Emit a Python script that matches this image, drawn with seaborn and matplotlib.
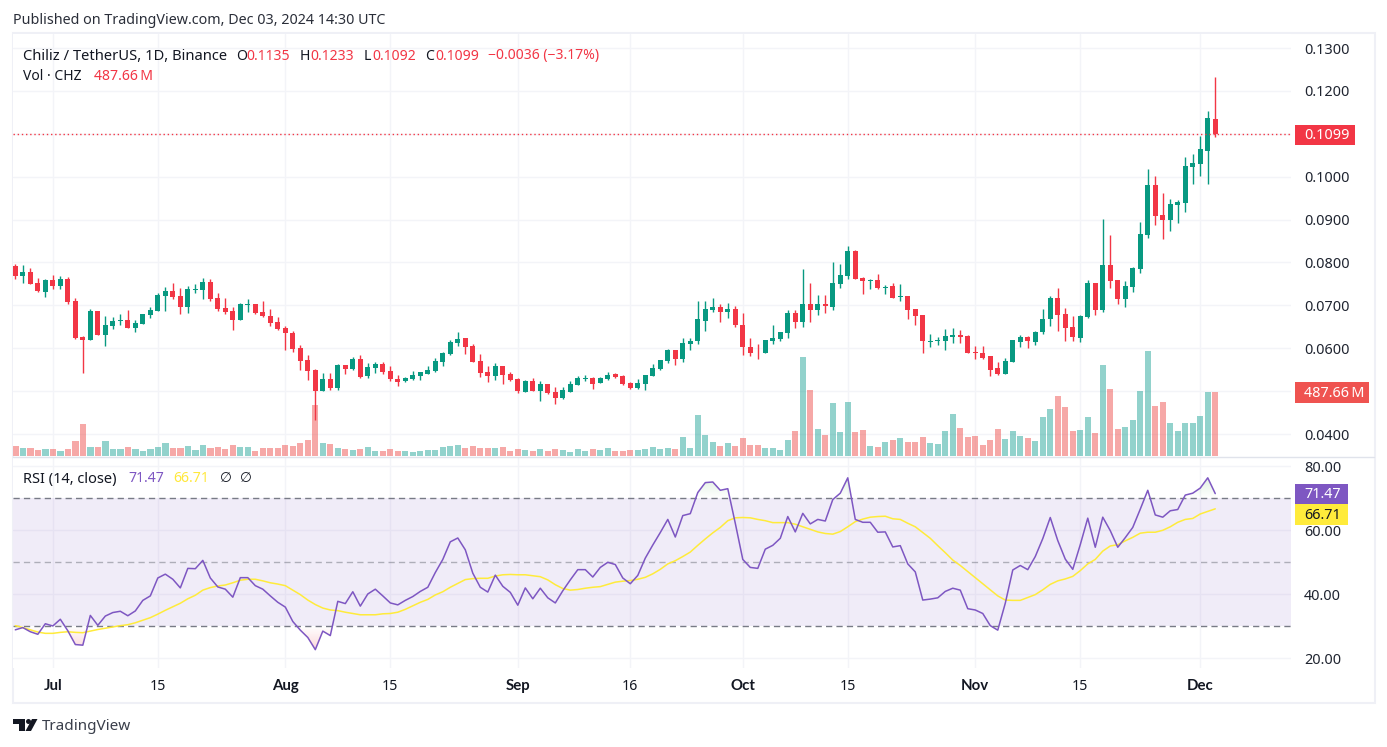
import numpy as np
import pandas as pd
import matplotlib
matplotlib.use("Agg")
import matplotlib.pyplot as plt
from matplotlib.patches import Rectangle, Polygon
from matplotlib.path import Path
import seaborn as sns

opens = [
 .0792,.0768,.0778,.0752,.0731,.0759,.0745,.0761,.0710,.0626,
 .0619,.0687,.0631,.0652,.0664,.0666,.0647,.0657,.0678,.0687,
 .0722,.0733,.0722,.0696,.0736,.0736,.0754,.0717,.0694,.0687,
 .0666,.0701,.0703,.0685,.0675,.0661,.0647,.0636,.0601,.0573,
 .0550,.0501,.0529,.0508,.0561,.0552,.0575,.0536,.0554,.0564,
 .0547,.0529,.0524,.0529,.0536,.0540,.0547,.0568,.0587,.0612,
 .0624,.0605,.0571,.0545,.0536,.0559,.0540,.0529,.0499,.0524,
 .0501,.0517,.0498,.0484,.0498,.0515,.0529,.0531,.0519,.0529,
 .0540,.0536,.0519,.0508,.0517,.0536,.0552,.0571,.0597,.0574,
 .0611,.0616,.0664,.0690,.0697,.0685,.0692,.0655,.0604,.0590,
 .0588,.0618,.0622,.0636,.0683,.0660,.0704,.0688,.0702,.0697,
 .0750,.0769,.0827,.0764,.0757,.0760,.0741,.0746,.0720,.0722,
 .0691,.0678,.0615,.0617,.0617,.0626,.0631,.0629,.0591,.0589,
 .0582,.0554,.0540,.0568,.0615,.0626,.0615,.0638,.0668,.0717,
 .0680,.0650,.0624,.0673,.0752,.0689,.0794,.0759,.0715,.0743,
 .0785,.0864,.0980,.0910,.0898,.0933,.0938,.1022,.1029,.1061,
 .1135]
highs = [
 .0796,.0794,.0787,.0764,.0761,.0771,.0768,.0766,.0717,.0629,
 .0691,.0687,.0675,.0673,.0680,.0689,.0666,.0680,.0696,.0729,
 .0743,.0752,.0740,.0745,.0750,.0764,.0761,.0729,.0717,.0696,
 .0705,.0715,.0703,.0710,.0691,.0673,.0652,.0640,.0608,.0584,
 .0552,.0543,.0543,.0564,.0561,.0580,.0584,.0566,.0568,.0568,
 .0559,.0538,.0533,.0547,.0545,.0559,.0578,.0591,.0619,.0638,
 .0624,.0610,.0587,.0559,.0566,.0559,.0545,.0531,.0526,.0531,
 .0524,.0517,.0510,.0510,.0524,.0536,.0538,.0533,.0533,.0545,
 .0543,.0538,.0522,.0529,.0538,.0564,.0573,.0598,.0597,.0625,
 .0625,.0709,.0709,.0718,.0704,.0706,.0699,.0681,.0625,.0609,
 .0620,.0653,.0639,.0688,.0690,.0785,.0753,.0725,.0725,.0802,
 .0797,.0839,.0829,.0767,.0762,.0774,.0748,.0753,.0750,.0722,
 .0692,.0678,.0633,.0626,.0645,.0647,.0643,.0631,.0605,.0605,
 .0582,.0568,.0578,.0619,.0631,.0629,.0640,.0691,.0722,.0740,
 .0694,.0675,.0678,.0759,.0752,.0901,.0864,.0759,.0757,.0789,
 .0894,.1017,.1001,.0961,.0947,.0945,.1045,.1054,.1094,.1152,
 .1233]
lows = [
 .0761,.0752,.0750,.0731,.0719,.0738,.0738,.0703,.0622,.0543,
 .0619,.0631,.0605,.0645,.0654,.0647,.0638,.0657,.0671,.0687,
 .0687,.0715,.0680,.0682,.0729,.0715,.0710,.0687,.0680,.0643,
 .0666,.0685,.0680,.0673,.0652,.0643,.0596,.0591,.0550,.0526,
 .0432,.0501,.0503,.0503,.0540,.0550,.0531,.0531,.0543,.0540,
 .0524,.0512,.0522,.0526,.0526,.0540,.0545,.0559,.0585,.0605,
 .0587,.0568,.0533,.0522,.0526,.0517,.0524,.0496,.0499,.0501,
 .0478,.0494,.0471,.0482,.0498,.0515,.0524,.0505,.0519,.0526,
 .0531,.0515,.0505,.0505,.0503,.0536,.0550,.0566,.0562,.0567,
 .0595,.0609,.0641,.0685,.0660,.0671,.0650,.0585,.0581,.0574,
 .0588,.0611,.0618,.0625,.0648,.0650,.0662,.0678,.0681,.0690,
 .0741,.0762,.0762,.0727,.0739,.0739,.0727,.0718,.0709,.0667,
 .0653,.0589,.0603,.0608,.0596,.0612,.0612,.0589,.0575,.0575,
 .0536,.0538,.0540,.0568,.0603,.0601,.0608,.0633,.0652,.0640,
 .0617,.0617,.0615,.0671,.0678,.0684,.0740,.0703,.0696,.0731,
 .0775,.0857,.0887,.0854,.0873,.0891,.0917,.0982,.1001,.0982,
 .1092]
closes = [
 .0768,.0778,.0750,.0733,.0759,.0745,.0761,.0708,.0624,.0619,
 .0687,.0631,.0654,.0664,.0665,.0647,.0659,.0680,.0689,.0724,
 .0733,.0719,.0696,.0738,.0738,.0754,.0715,.0691,.0685,.0666,
 .0703,.0703,.0682,.0675,.0659,.0645,.0636,.0598,.0571,.0547,
 .0501,.0529,.0508,.0561,.0552,.0575,.0533,.0557,.0564,.0545,
 .0529,.0522,.0531,.0538,.0545,.0550,.0571,.0589,.0615,.0622,
 .0603,.0568,.0543,.0536,.0559,.0538,.0526,.0501,.0524,.0501,
 .0517,.0496,.0484,.0503,.0517,.0531,.0531,.0517,.0531,.0538,
 .0533,.0517,.0508,.0519,.0538,.0554,.0573,.0597,.0574,.0613,
 .0618,.0667,.0692,.0697,.0685,.0692,.0655,.0602,.0590,.0588,
 .0620,.0625,.0639,.0683,.0660,.0704,.0688,.0702,.0699,.0753,
 .0771,.0827,.0762,.0757,.0760,.0741,.0743,.0718,.0722,.0690,
 .0676,.0616,.0617,.0619,.0629,.0631,.0626,.0589,.0589,.0578,
 .0550,.0540,.0571,.0619,.0626,.0617,.0638,.0668,.0717,.0678,
 .0647,.0626,.0675,.0752,.0689,.0794,.0757,.0715,.0745,.0787,
 .0866,.0980,.0908,.0898,.0936,.0940,.1024,.1033,.1064,.1136,
 .1099]
volumes_m = [
 76,61,61,46,53,53,38,53,114,244,
 69,69,114,53,53,69,53,38,53,69,
 99,61,61,76,46,84,61,69,53,84,
 69,69,38,61,61,61,84,76,99,122,
 389,99,91,61,53,46,53,69,38,38,
 53,38,38,30,38,46,46,69,76,84,
 61,76,61,61,61,69,38,53,46,38,
 53,38,53,46,30,53,38,53,46,61,
 38,38,46,46,53,69,53,61,53,145,
 61,312,160,107,76,99,76,137,84,84,
 61,61,46,122,190,754,503,206,160,404,
 183,411,183,198,76,69,107,122,137,107,
 107,145,99,91,190,320,213,145,152,84,
 122,206,130,190,152,137,114,297,358,457,
 373,190,198,297,175,693,511,206,221,274,
 495,800,381,411,251,190,251,251,305,488,
 487.66]
rsi_values = [
 28.9,29.6,28.3,27.5,30.8,30.1,32.2,28.6,24.3,24.1,
 33.4,30.3,33.2,34.3,34.7,33.3,34.8,38.1,39.5,45.1,
 46.3,44.7,42.0,48.1,48.0,50.6,45.1,42.3,41.6,39.1,
 45.2,45.2,42.7,41.6,39.5,37.5,36.0,31.5,28.8,26.5,
 22.7,28.5,27.1,37.8,37.1,40.8,36.3,40.1,41.6,39.5,
 37.3,36.7,38.1,39.3,40.9,42.2,46.8,50.9,56.4,57.6,
 53.9,46.6,42.2,40.7,46.0,42.5,40.6,36.6,42.0,38.6,
 41.9,38.9,37.3,41.1,44.5,47.7,47.7,45.4,48.4,50.0,
 49.3,45.1,43.3,45.9,51.3,55.4,59.3,63.4,57.9,64.6,
 65.2,71.8,74.9,75.1,72.5,73.0,62.2,50.9,48.4,48.1,
 54.1,55.3,57.5,64.3,59.5,65.3,62.0,63.4,62.9,69.6,
 71.6,76.4,63.4,62.5,62.5,59.4,59.5,54.8,55.2,49.5,
 47.0,38.2,38.5,38.9,40.9,41.9,41.3,35.5,35.1,34.0,
 30.2,28.8,37.2,47.6,49.0,47.7,51.8,57.4,64.0,56.8,
 51.0,47.8,55.5,63.8,54.7,64.1,59.9,54.7,57.7,60.9,
 66.6,72.5,64.8,64.1,66.1,66.5,71.0,71.6,73.2,76.4,
 71.47]
rsi_ma_values = [
 30.2,29.6,28.9,28.2,27.8,27.8,28.1,28.3,28.1,28.0,
 28.5,29.0,29.4,29.8,30.2,30.5,31.1,31.9,32.7,33.8,
 35.0,36.1,37.2,38.6,39.7,41.3,42.1,42.6,42.9,43.6,
 44.4,44.7,44.7,44.2,43.6,43.2,42.7,41.3,39.9,38.2,
 36.8,35.7,35.1,34.9,34.4,34.0,33.6,33.6,33.6,33.9,
 34.0,34.4,35.3,36.4,37.5,38.4,39.8,40.8,42.2,43.4,
 44.6,44.9,45.0,45.0,45.7,46.1,46.2,46.1,46.1,45.8,
 45.5,44.5,43.0,41.8,41.3,41.5,41.9,42.2,42.4,43.1,
 43.8,44.1,44.3,44.7,45.3,46.4,47.8,49.5,50.5,51.8,
 53.2,55.3,57.3,59.2,60.9,63.0,63.9,64.0,63.9,63.4,
 63.0,62.4,62.4,62.4,61.9,61.1,60.3,59.5,59.0,58.8,
 59.6,61.1,62.7,63.5,64.1,64.3,64.4,63.6,63.4,62.2,
 61.1,59.3,57.5,55.2,53.0,50.7,49.0,47.1,45.2,43.3,
 41.4,39.5,38.2,38.1,38.1,39.0,39.9,41.4,43.1,44.2,
 44.8,45.6,47.4,49.5,50.9,53.5,55.1,55.5,56.7,57.8,
 59.1,59.4,59.4,60.0,61.1,62.5,63.4,63.7,65.1,65.9,
 66.71]
x_tick_days = [5, 19, 36, 50, 67, 82, 97, 111, 128, 142, 158]
x_tick_labels = ["Jul", "15", "Aug", "15", "Sep", "16", "Oct", "15", "Nov", "15", "Dec"]
x_tick_bold = ["Jul", "Aug", "Sep", "Oct", "Nov", "Dec"]
price_grid = [.13, .12, .11, .10, .09, .08, .07, .06, .05, .04]
price_tick_labels = ["0.1300", "0.1200", "", "0.1000", "0.0900", "0.0800", "0.0700", "0.0600", "", "0.0400"]
rsi_grid = [80, 60, 40, 20]
rsi_tick_labels = ["80.00", "60.00", "40.00", "20.00"]

for arr in (opens, highs, lows, closes, volumes_m, rsi_values, rsi_ma_values):
    assert len(arr) == 161

UP, DOWN = "#089981", "#f23645"
GRID = "#f3f4f8"
INK = "#131722"
PURPLE, YELLOW = "#7e57c2", "#ffeb3b"
W, H = 1387, 747

sns.set_theme(style="white")
plt.rcParams["font.family"] = ["Noto Sans", "DejaVu Sans"]

df = pd.DataFrame({"day": np.arange(161), "open": opens, "high": highs, "low": lows,
                   "close": closes, "volume": volumes_m, "rsi": rsi_values, "rsi_ma": rsi_ma_values})
df["dir"] = np.where(df["close"] >= df["open"], "up", "down")

fig = plt.figure(figsize=(W / 100, H / 100), dpi=100, facecolor="white")


def rect(l, t, r, b):
    return [l / W, 1 - b / H, (r - l) / W, (b - t) / H]


XLIM = (-0.31, 170.1)
PL, PR = 13, 1291
main_rect = rect(PL, 34, PR, 456)
rsi_rect = rect(PL, 457, PR, 668)
PRICE_LIM = (0.13 - (456 - 48) / 4289, 0.13 + (48 - 34) / 4289)
RSI_LIM = (70 - (668 - 498.3) / 3.2, 70 + (498.3 - 457) / 3.2)

# base pane: grid and price ticks
ax = fig.add_axes(main_rect, zorder=1)
ax.set_xlim(*XLIM)
ax.set_ylim(*PRICE_LIM)
ax.set_xticks(x_tick_days)
ax.set_xticklabels([])
ax.set_yticks(price_grid)
ax.set_yticklabels(price_tick_labels, fontsize=10.4, color="#1f2430")
ax.yaxis.tick_right()
ax.tick_params(axis="both", length=0)
ax.tick_params(axis="y", pad=9.4)
ax.grid(True, color=GRID, lw=1.0)
ax.set_axisbelow(True)
for s in ax.spines.values():
    s.set_visible(False)

# volume layer
ax_vol = fig.add_axes(main_rect, zorder=2, facecolor="none")
sns.barplot(data=df, x="day", y="volume", hue="dir", hue_order=["up", "down"],
            palette={"up": "#26a69a", "down": "#ef5350"}, native_scale=True, dodge=False,
            width=0.85, saturation=1, alpha=0.5, legend=False, ax=ax_vol, linewidth=0)
ax_vol.set_xlim(*XLIM)
ax_vol.set_ylim(0, 422 / (64 / 487.66))
ax_vol.axis("off")

# candle layer
ax_c = fig.add_axes(main_rect, zorder=3, facecolor="none")
ax_c.set_xlim(*XLIM)
ax_c.set_ylim(*PRICE_LIM)
ax_c.axis("off")
colors = df["dir"].map({"up": UP, "down": DOWN})
ax_c.vlines(df["day"], df["low"], df["high"], colors=colors, lw=1.0)
bottoms = df[["open", "close"]].min(axis=1)
heights = np.maximum((df["close"] - df["open"]).abs(), 0.00012)
ax_c.bar(df["day"], heights, bottom=bottoms, width=0.7, color=colors, linewidth=0)
ax_c.axhline(closes[-1], color=DOWN, lw=1.0, ls=(0, (1, 2)))

# RSI pane
ax_r = fig.add_axes(rsi_rect, zorder=1)
ax_r.set_xlim(*XLIM)
ax_r.set_ylim(*RSI_LIM)
ax_r.set_xticks(x_tick_days)
ax_r.set_xticklabels(x_tick_labels, fontsize=10.2, color=INK)
for lab in ax_r.get_xticklabels():
    if lab.get_text() in x_tick_bold:
        lab.set_fontfamily("Lato")
        lab.set_fontweight("bold")
        lab.set_fontsize(10.8)
ax_r.set_yticks(rsi_grid)
ax_r.set_yticklabels(rsi_tick_labels, fontsize=10.4, color="#1f2430")
ax_r.yaxis.tick_right()
ax_r.tick_params(axis="both", length=0)
ax_r.tick_params(axis="y", pad=9.4)
ax_r.tick_params(axis="x", pad=8)
ax_r.grid(True, color=GRID, lw=1.0)
ax_r.set_axisbelow(True)
for s in ax_r.spines.values():
    s.set_visible(False)
ax_r.axhspan(30, 70, color=PURPLE, alpha=0.11, lw=0, zorder=1)


def gradient_fill(level, far, rgb, where):
    poly = ax_r.fill_between(df["day"], df["rsi"], level, where=where, interpolate=True, color="none", lw=0)
    paths = poly.get_paths()
    if not paths:
        return
    g = np.zeros((64, 2, 4))
    g[..., :3] = rgb
    g[..., 3] = np.linspace(0.22, 0, 64)[:, None]
    lo, hi = (level, far) if far > level else (far, level)
    im = ax_r.imshow(g, extent=(XLIM[0], XLIM[1], lo, hi), aspect="auto", zorder=1.5,
                     origin="upper" if far > level else "lower")
    im.set_clip_path(Path.make_compound_path(*paths), ax_r.transData)
    ax_r.set_xlim(*XLIM)
    ax_r.set_ylim(*RSI_LIM)


gradient_fill(70, 78, (0.30, 0.69, 0.31), df["rsi"] > 70)
gradient_fill(30, 22, (0.95, 0.21, 0.27), df["rsi"] < 30)

for lvl, a in ((70, 1.0), (50, 0.55), (30, 1.0)):
    ax_r.axhline(lvl, color="#787b86", lw=1.0, ls=(0, (4.5, 3)), alpha=a, zorder=2)
sns.lineplot(data=df, x="day", y="rsi_ma", color=YELLOW, lw=1.1, estimator=None, ax=ax_r, zorder=3)
sns.lineplot(data=df, x="day", y="rsi", color=PURPLE, lw=1.1, estimator=None, ax=ax_r, zorder=4)
ax_r.set_xlabel("")
ax_r.set_ylabel("")

# outer frame and pane separator
fig.add_artist(Rectangle((12.5 / W, 1 - 703 / H), 1362 / W, 670 / H, transform=fig.transFigure,
                         fc="none", ec="#eff0f6", lw=1.5, zorder=0))
fig.add_artist(plt.Line2D([13 / W, 1374 / W], [1 - 456.5 / H] * 2, transform=fig.transFigure,
                          color="#e0e3eb", lw=1, zorder=5))


def T(x, y, s, color=INK, size=10, **kw):
    return fig.text(x / W, 1 - (y + 2) / H, s, color=color, fontsize=size, va="center", ha="left", zorder=20, **kw)


def badge(l, t, r, b, color, s, tc="white"):
    fig.add_artist(Rectangle((l / W, 1 - b / H), (r - l) / W, (b - t) / H, transform=fig.transFigure,
                             fc=color, ec="none", zorder=15))
    T(l + 9, (t + b) / 2 - 1, s, color=tc, size=10.4)


badge(1295, 124.5, 1355, 145, DOWN, "0.1099")
badge(1295, 382, 1369, 403, "#ef5350", "487.66\u2009M")
badge(1295, 483.5, 1348, 504, PURPLE, "71.47")
badge(1295, 504, 1348, 525, YELLOW, "66.71", tc=INK)

T(13, 19, "Published on TradingView.com, Dec 03, 2024 14:30 UTC", size=10.3, color="#2a2e39")
T(23, 54, "Chiliz / TetherUS, 1D, Binance", size=10.6)
for x, s, c in ((236, "O", INK), (246, "0.1135", DOWN), (300, "H", INK), (310, "0.1233", DOWN),
                (364, "L", INK), (372, "0.1092", DOWN), (425, "C", INK), (435, "0.1099", DOWN),
                (488, "\u22120.0036 (\u22123.17%)", DOWN)):
    T(x, 54, s, color=c, size=10.1)
T(23, 75, "Vol \u00b7 CHZ", size=10)
T(94, 75, "487.66\u2009M", color=DOWN, size=10.1)
T(23, 477, "RSI (14, close)", size=10.5)
T(128, 477, "71.47", color=PURPLE, size=10.1)
T(173, 477, "66.71", color="#ffe83b", size=10.1)
T(220, 477, "\u2205", size=9.9)
T(240, 477, "\u2205", size=9.9)

# TradingView wordmark
logo_shapes = [[(13, 719), (25, 719), (25, 731), (19, 731), (19, 724), (13, 724)],
               [(32, 719), (37.5, 719), (31, 731), (25.5, 731)],
               [(28.5 + 2.5 * np.cos(t), 721.5 + 2.5 * np.sin(t)) for t in np.linspace(0, 2 * np.pi, 24)]]
for shape in logo_shapes:
    xy = np.array(shape)
    xy = np.c_[xy[:, 0] / W, 1 - xy[:, 1] / H]
    fig.add_artist(Polygon(xy, closed=True, transform=fig.transFigure, fc="#131722", ec="none"))
T(42, 724, "TradingView", size=11, color="#3a3f4b")

fig.savefig("out.png", dpi=100, facecolor="white")
